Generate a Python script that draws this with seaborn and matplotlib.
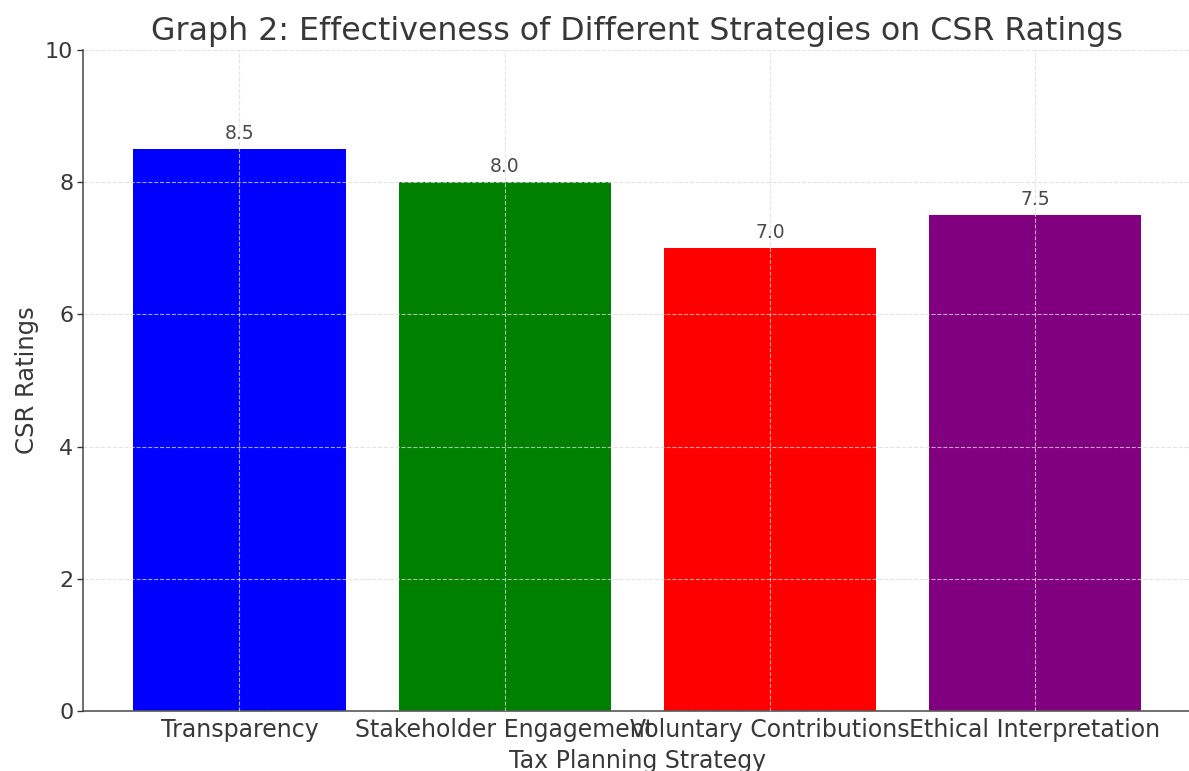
import matplotlib
matplotlib.use("Agg")
import matplotlib.pyplot as plt
import seaborn as sns
import pandas as pd

# Strategy categories and their CSR ratings
strategies = ["Transparency", "Stakeholder Engagement", "Voluntary Contributions", "Ethical Interpretation"]
ratings = [8.5, 8.0, 7.0, 7.5]
bar_colors = ["blue", "green", "red", "purple"]
y_ticks = [0, 2, 4, 6, 8, 10]

sns.set_theme(style="white")
plt.rcParams["font.family"] = ["DejaVu Sans"]

text_color = "#383838"

df = pd.DataFrame({"Strategy": strategies, "Rating": ratings})

fig = plt.figure(figsize=(11.89, 7.71), dpi=100)
ax = fig.add_axes([83 / 1189, 60 / 771, 1108.5 / 1189, 661 / 771])

sns.barplot(data=df, x="Strategy", y="Rating", hue="Strategy",
            palette=bar_colors, saturation=1, width=0.8,
            linewidth=0, legend=False, ax=ax)

# value labels above each bar
for i, v in enumerate(ratings):
    ax.text(i, v + 0.1, f"{v:.1f}", ha="center", va="bottom",
            fontsize=13.5, color="#4a4a4a")

ax.set_xlim(-0.59, 3.59)
ax.set_ylim(0, 10)
ax.set_yticks(y_ticks)
ax.set_title("Graph 2: Effectiveness of Different Strategies on CSR Ratings",
             fontsize=22.8, color=text_color, pad=7)
ax.set_xlabel("Tax Planning Strategy", fontsize=17, color=text_color, labelpad=5)
ax.set_ylabel("CSR Ratings", fontsize=17.5, color=text_color, labelpad=4)

ax.tick_params(axis="y", labelsize=16, colors=text_color, length=4, width=1,
               left=True, pad=3)
ax.tick_params(axis="x", labelsize=17, colors=text_color, length=0, pad=5)

for side in ["top", "right"]:
    ax.spines[side].set_visible(False)
for side in ["left", "bottom"]:
    ax.spines[side].set_color("#555555")
    ax.spines[side].set_linewidth(1.2)

ax.grid(True, linestyle="--", color="#dcdcdc", linewidth=0.8, alpha=0.75)
ax.set_axisbelow(False)

fig.savefig("out.png", dpi=100)
